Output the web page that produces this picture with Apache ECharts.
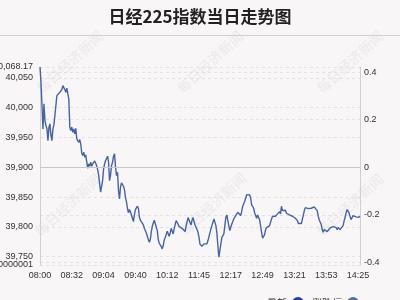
<!DOCTYPE html>
<html>
<head>
<meta charset="utf-8">
<script src="https://cdn.jsdelivr.net/npm/echarts@6/dist/echarts.min.js"></script>
<style>
html,body{margin:0;padding:0;background:#f9f6f7;}
#c{width:400px;height:300px;}
</style>
</head>
<body>
<div id="c"></div>
<script>
// Trading sessions (Beijing time) used to build the minute categories
const sessions = [['08:00', '10:29'], ['11:31', '14:27']];
const skippedMinutes = ['09:15', '09:22', '09:29', '09:33'];
const seriesNames = ['最新', '涨跌幅'];
const prevClose = 39900;
const axisMax = 40068.17;
const axisMin = 39736.0000001;

// 最新 (index level), one value per minute
const latest = [
  40068.17, 40042.6, 40003.5, 39964.3, 40006.3, 39978.3, 39969.9, 39964.3, 39944.7, 39967.1,
  39972.7, 39953.1, 39944.7, 39964.3, 39971.0, 39968.8, 40003.5, 40020.2, 40023.0, 40020.2,
  40025.8, 40024.7, 40030.3, 40037.0, 40035.9, 40030.3, 40025.8, 40032.6, 40023.0, 40014.7,
  39967.1, 39961.5, 39967.1, 39958.7, 39964.3, 39955.9, 39965.4, 39947.5, 39946.4, 39941.9,
  39946.4, 39939.2, 39924.0, 39919.6, 39925.2, 39916.8, 39920.7, 39909.5, 39898.3, 39905.6,
  39901.7, 39908.4, 39901.7, 39905.6, 39908.4, 39910.6, 39908.4, 39902.8, 39896.1, 39887.1,
  39872.0, 39858.1, 39868.1, 39877.6, 39897.2, 39905.6, 39911.2, 39914.0, 39918.5, 39908.4,
  39877.6, 39887.1, 39902.8, 39908.4, 39918.5, 39922.4, 39900.0, 39886.0, 39891.6, 39860.8,
  39846.9, 39866.4, 39873.7, 39870.4, 39868.1, 39862.5, 39849.1, 39842.4, 39831.2, 39823.4,
  39829.0, 39825.6, 39820.0, 39814.4, 39808.8, 39820.0, 39829.0, 39832.3, 39834.6, 39831.2,
  39816.1, 39811.1, 39813.3, 39808.8, 39803.2, 39797.6, 39794.3, 39789.8, 39784.2, 39778.6,
  39774.2, 39778.6, 39792.1, 39801.0, 39806.6, 39811.1, 39813.3, 39808.8, 39793.7, 39778.6,
  39772.5, 39769.7, 39766.9, 39763.0, 39768.6, 39778.1, 39782.0, 39787.0, 39792.6, 39790.9,
  39784.2, 39789.8, 39797.6, 39795.4, 39788.1, 39796.5, 39803.8, 39810.5, 39810.0, 39804.4,
  39800.4, 39797.6, 39797.1, 39797.6, 39795.4, 39797.6, 39792.1, 39801.0, 39808.8, 39815.5,
  39817.8, 39814.4, 39803.2, 39811.1, 39815.5, 39808.8, 39803.2, 39804.4, 39795.4, 39790.9,
  39782.5, 39770.8, 39768.6, 39767.4, 39768.6, 39771.4, 39774.2, 39769.7, 39771.4, 39777.0,
  39774.2, 39779.8, 39796.5, 39802.1, 39807.7, 39813.3, 39810.5, 39802.1, 39789.8, 39768.6,
  39749.0, 39751.8, 39771.4, 39782.5, 39785.3, 39788.1, 39802.1, 39816.1, 39820.0, 39810.5,
  39802.1, 39793.7, 39796.5, 39804.9, 39808.8, 39813.3, 39814.4, 39818.9, 39821.7, 39824.5,
  39827.3, 39821.7, 39818.9, 39826.2, 39834.6, 39837.9, 39843.0, 39848.5, 39854.1, 39856.4,
  39855.3, 39853.6, 39848.0, 39836.8, 39835.7, 39831.2, 39823.4, 39818.9, 39814.4, 39820.0,
  39818.9, 39811.6, 39801.0, 39790.9, 39780.9, 39779.8, 39787.0, 39795.4, 39798.8, 39802.1,
  39797.6, 39802.1, 39807.7, 39813.3, 39817.8, 39816.1, 39818.9, 39817.8, 39816.1, 39821.7,
  39824.5, 39825.6, 39821.7, 39834.6, 39827.3, 39825.6, 39827.3, 39827.9, 39822.8, 39823.4,
  39820.0, 39820.0, 39817.8, 39821.1, 39817.8, 39817.2, 39817.8, 39814.4, 39812.7, 39810.5,
  39805.5, 39806.6, 39806.6, 39805.5, 39802.7, 39806.0, 39827.3, 39832.3, 39831.8, 39832.3,
  39830.6, 39832.3, 39830.6, 39831.2, 39827.9, 39829.5, 39833.4, 39832.9, 39834.6, 39826.7,
  39817.8, 39811.6, 39809.4, 39803.8, 39795.4, 39790.9, 39795.4, 39792.1, 39792.1, 39792.1,
  39795.4, 39794.9, 39798.2, 39797.1, 39801.0, 39800.4, 39803.2, 39798.2, 39798.8, 39795.4,
  39798.8, 39799.9, 39795.4, 39792.1, 39795.4, 39802.1, 39810.0, 39816.1, 39823.4, 39829.0,
  39829.0, 39823.4, 39817.2, 39812.2, 39813.3, 39818.9, 39821.1, 39818.9, 39816.7, 39818.3,
  39819.5, 39816.1, 39817.8
];

function toMin(s) { const p = s.split(':'); return (+p[0]) * 60 + (+p[1]); }
function fmtMin(m) { const h = Math.floor(m / 60), mm = m % 60; return (h < 10 ? '0' : '') + h + ':' + (mm < 10 ? '0' : '') + mm; }
const times = [];
sessions.forEach(function (s) {
  for (let m = toMin(s[0]); m <= toMin(s[1]); m++) {
    const t = fmtMin(m);
    if (skippedMinutes.indexOf(t) < 0) times.push(t);
  }
});

function commaNum(v) {
  const s = String(v);
  const parts = s.split('.');
  const neg = parts[0].charAt(0) === '-';
  let ip = neg ? parts[0].slice(1) : parts[0];
  ip = ip.replace(/\B(?=(\d{3})+(?!\d))/g, ',');
  return (neg ? '-' : '') + ip + (parts.length > 1 ? '.' + parts[1] : '');
}

const chart = echarts.init(document.getElementById('c'), null, {renderer: 'canvas'});
const wmStyle = {text: '每日经济新闻', fill: 'rgba(0,0,0,0.045)', font: 'bold 14px "Noto Sans CJK SC"', align: 'center', verticalAlign: 'middle'};
const wmPos = [[70, 62], [210, 62], [350, 62], [68, 205], [213, 204], [350, 205]];
const graphics = [{
  type: 'line', shape: {x1: 0, y1: 35.5, x2: 400, y2: 35.5},
  style: {stroke: '#cfcfcf', lineWidth: 1}, z: 1
}];
wmPos.forEach(function (p) {
  graphics.push({type: 'text', x: p[0], y: p[1], rotation: Math.PI / 4 * 0.95, style: wmStyle, z: 0, silent: true});
});

const labelFont = 'Liberation Sans, Arial, sans-serif';

chart.setOption({
  backgroundColor: '#f9f6f7',
  animation: false,
  title: {
    text: '日经225指数当日走势图', left: 'center', top: 3,
    textStyle: {fontSize: 17, fontWeight: 'bold', color: '#222', fontFamily: '"Noto Sans CJK SC", sans-serif'}
  },
  graphic: graphics,
  legend: {
    data: seriesNames, right: 36, top: 292, align: 'right', icon: 'circle',
    itemWidth: 12, itemHeight: 12, itemGap: 8,
    textStyle: {fontSize: 10, color: '#333', fontFamily: '"Noto Sans CJK SC", sans-serif'}
  },
  grid: {left: 40, right: 40, top: 67, bottom: 35, containLabel: false, outerBoundsMode: 'none'},
  xAxis: {
    type: 'category', data: times, boundaryGap: false,
    axisLine: {show: false}, axisTick: {show: false},
    axisLabel: {interval: 31, fontSize: 9, color: '#333', margin: 6, fontFamily: labelFont},
    splitLine: {show: false}
  },
  yAxis: [{
    type: 'value', min: axisMin, max: axisMax, scale: true, position: 'left',
    axisLine: {show: true, lineStyle: {color: '#d0d0d0'}}, axisTick: {show: false},
    axisLabel: {fontSize: 9, color: '#333', margin: 7, formatter: commaNum, hideOverlap: false,
      showMinLabel: false, showMaxLabel: true, fontFamily: labelFont},
    splitLine: {show: true, lineStyle: {color: '#e2e2e2', type: [3, 3]}}
  }, {
    type: 'value', position: 'right',
    min: (axisMin - prevClose) / prevClose * 100,
    max: (axisMax - prevClose) / prevClose * 100,
    axisLine: {show: true, lineStyle: {color: '#d0d0d0'}}, axisTick: {show: false},
    axisLabel: {fontSize: 9, color: '#333', margin: 4, showMinLabel: false, showMaxLabel: false, fontFamily: labelFont,
      formatter: function (v) { return String(Math.round(v * 10) / 10); }},
    splitLine: {show: true, lineStyle: {color: '#e2e2e2', type: [3, 3]}}
  }, {
    type: 'value', position: 'left', offset: 0, min: axisMin, max: axisMax,
    axisLine: {show: false}, axisTick: {show: false}, splitLine: {show: false},
    axisLabel: {fontSize: 9, color: '#333', margin: 7, formatter: commaNum, customValues: [axisMin], fontFamily: labelFont}
  }],
  series: [{
    name: seriesNames[0], type: 'line', data: latest, yAxisIndex: 0,
    showSymbol: false, symbol: 'none',
    itemStyle: {color: '#1d3f9e'},
    lineStyle: {color: '#4764a2', width: 1.4},
    markLine: {
      silent: true, symbol: 'none', label: {show: false},
      lineStyle: {color: '#c8c8c8', type: 'solid', width: 1},
      data: [{yAxis: prevClose}]
    },
    z: 3
  }, {
    name: seriesNames[1], type: 'line', data: [], yAxisIndex: 1,
    showSymbol: false, itemStyle: {color: '#5a6f9c'}, lineStyle: {color: '#5a6f9c'}
  }]
});
</script>
</body>
</html>
